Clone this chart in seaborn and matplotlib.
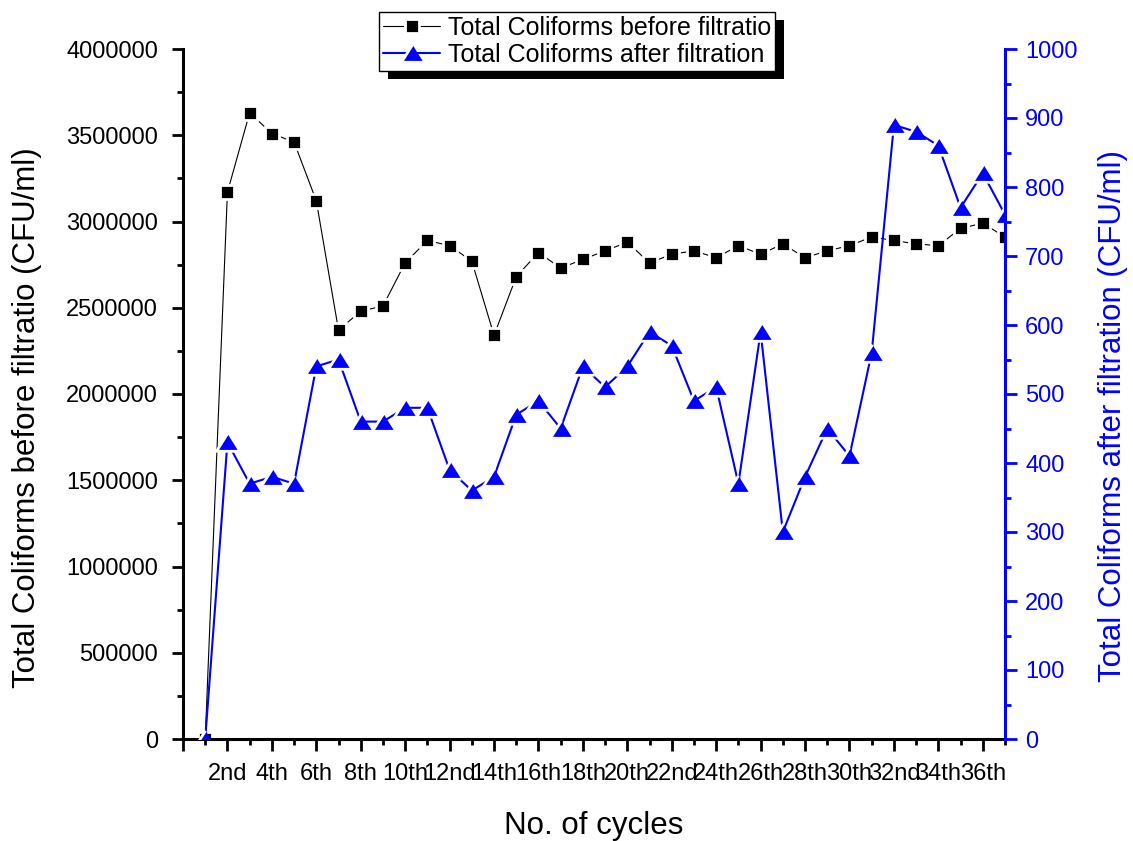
import matplotlib
matplotlib.use("Agg")
import matplotlib.pyplot as plt
import matplotlib.patheffects as pe
from matplotlib.ticker import MultipleLocator, FuncFormatter
import seaborn as sns

# Coliform counts per filtration cycle (CFU/ml)
cycles = list(range(1, 38))
before_filtration = [0, 3170000, 3630000, 3510000, 3460000, 3120000, 2370000,
                     2480000, 2510000, 2760000, 2890000, 2860000, 2770000,
                     2340000, 2680000, 2820000, 2730000, 2780000, 2830000,
                     2880000, 2760000, 2810000, 2830000, 2790000, 2860000,
                     2810000, 2870000, 2790000, 2830000, 2860000, 2910000,
                     2890000, 2870000, 2860000, 2960000, 2990000, 2910000]
after_filtration = [0, 430, 370, 380, 370, 540, 550, 460, 460, 480, 480, 390,
                    360, 380, 470, 490, 450, 540, 510, 540, 590, 570, 490, 510,
                    370, 590, 300, 380, 450, 410, 560, 890, 880, 860, 770, 820,
                    760]

cycle_tick_pos = list(range(0, 37, 2))
cycle_tick_labels = ["", "2nd", "4th", "6th", "8th", "10th", "12nd", "14th",
                     "16th", "18th", "20th", "22nd", "24th", "26th", "28th",
                     "30th", "32nd", "34th", "36th"]

label_before = "Total Coliforms before filtratio"
label_after = "Total Coliforms after filtration"
ylabel_left = "Total Coliforms before filtratio (CFU/ml)"
ylabel_right = "Total Coliforms after filtration (CFU/ml)"
xlabel = "No. of cycles"

sns.set_style("ticks")
plt.rcParams.update({
    "font.family": ["Liberation Sans", "DejaVu Sans"],
    "axes.edgecolor": "black",
    "axes.labelcolor": "black",
    "text.color": "black",
    "xtick.color": "black",
    "ytick.color": "black",
})

W, H = 1133, 841
fig = plt.figure(figsize=(W / 100, H / 100), dpi=100)
ax = fig.add_axes([183 / W, (H - 739) / H, 822 / W, 690 / H])
ax2 = ax.twinx()

# flattened triangle marker
tri = [(0, 0.8), (-1, -0.8), (1, -0.8)]

sns.lineplot(x=cycles, y=before_filtration, ax=ax, color="black",
             linewidth=0.8, marker="s", markersize=10.6,
             markerfacecolor="black", markeredgecolor="white",
             markeredgewidth=2.0, legend=False)
sns.lineplot(x=cycles, y=after_filtration, ax=ax2, color="blue",
             linewidth=1.5, marker=tri, markersize=15.8,
             markerfacecolor="blue", markeredgecolor="white",
             markeredgewidth=2.0, legend=False)

ax.set_xlim(0, 37)
ax.set_ylim(0, 4000000)
ax2.set_ylim(0, 1000)

ax.set_xticks(cycle_tick_pos, cycle_tick_labels)
ax.xaxis.set_minor_locator(MultipleLocator(1))
ax.yaxis.set_major_locator(MultipleLocator(500000))
ax.yaxis.set_minor_locator(MultipleLocator(250000))
ax.yaxis.set_major_formatter(FuncFormatter(lambda v, p: f"{v:.0f}"))
ax2.yaxis.set_major_locator(MultipleLocator(100))
ax2.yaxis.set_minor_locator(MultipleLocator(50))
ax2.yaxis.set_major_formatter(FuncFormatter(lambda v, p: f"{v:.0f}"))

for s in ("top", "right"):
    ax.spines[s].set_visible(False)
for s in ("left", "bottom"):
    ax.spines[s].set_linewidth(2.2)
for s in ("top", "left", "bottom"):
    ax2.spines[s].set_visible(False)
ax2.spines["right"].set_color("blue")
ax2.spines["right"].set_linewidth(2.2)

ax.tick_params(axis="y", which="major", direction="out", length=8, width=2,
               labelsize=17, pad=10)
ax.tick_params(axis="y", which="minor", direction="out", length=4, width=2)
ax.tick_params(axis="x", which="major", direction="out", length=8.5, width=2,
               labelsize=17, pad=8.5)
ax.tick_params(axis="x", which="minor", direction="out", length=4, width=2)
ax2.tick_params(axis="y", which="major", direction="out", length=8.5, width=2,
                labelsize=17, pad=6, colors="blue")
ax2.tick_params(axis="y", which="minor", direction="out", length=4, width=2,
                colors="blue")

ax.set_xlabel(xlabel, fontsize=22.5)
ax.xaxis.label.set_va("center")
ax.xaxis.set_label_coords(0.5, (739 - 826) / 690)

ax.set_ylabel(ylabel_left, fontsize=22.5)
ax.yaxis.label.set_va("center")
ax.yaxis.set_label_coords((27 - 183) / 822, (739 - 418) / 690)

ax2.set_ylabel(ylabel_right, fontsize=22.5, color="blue")
ax2.yaxis.label.set_va("center")
ax2.yaxis.set_label_coords((1113 - 183) / 822, (739 - 416) / 690)

handles = [ax.lines[0], ax2.lines[0]]
leg = fig.legend(handles, [label_before, label_after],
                 loc="upper center", bbox_to_anchor=(577 / W, 1 - 12 / H),
                 fontsize=18, frameon=True, fancybox=False, framealpha=1,
                 edgecolor="black", borderpad=0.15, labelspacing=0.12,
                 handlelength=2.3, handletextpad=0.3, borderaxespad=0)
frame = leg.get_frame()
frame.set_linewidth(1.0)
frame.set_path_effects([
    pe.SimplePatchShadow(offset=(6.5, -6), shadow_rgbFace="black", alpha=1),
    pe.Normal(),
])

fig.savefig("out.png", dpi=100)
